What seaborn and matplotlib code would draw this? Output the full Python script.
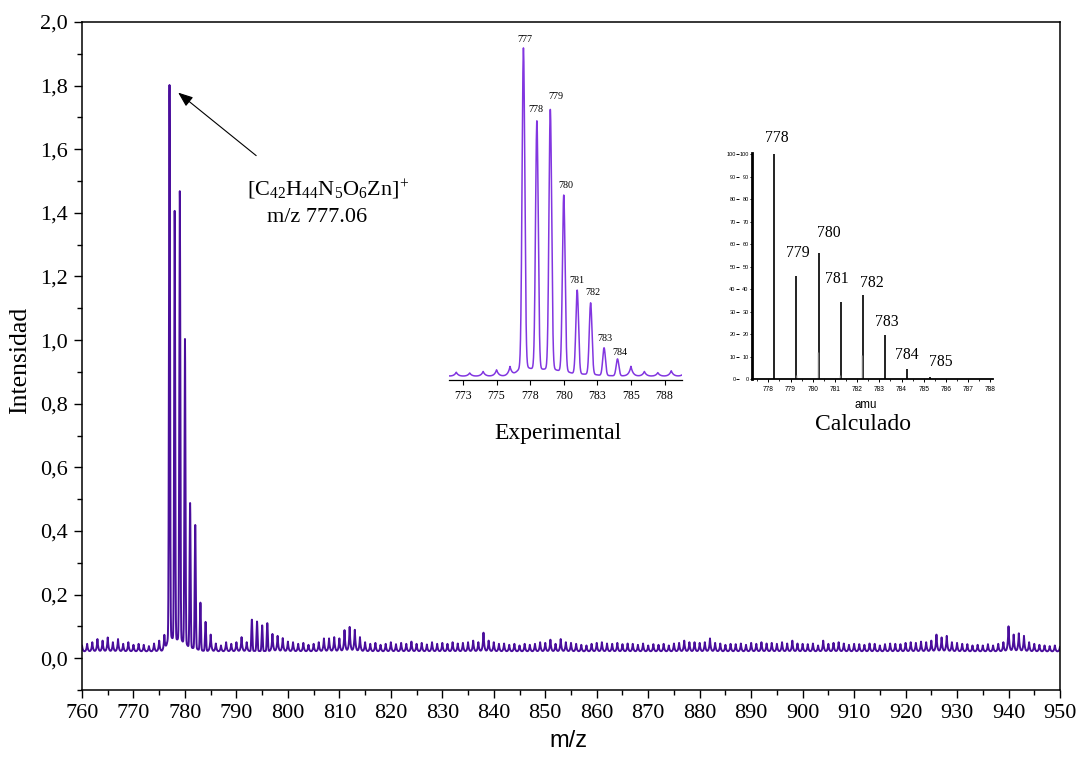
import numpy as np
import pandas as pd
import matplotlib
matplotlib.use("Agg")
import matplotlib.pyplot as plt
from matplotlib.ticker import MultipleLocator, FuncFormatter, FixedLocator, FixedFormatter
import seaborn as sns

# ---------------------------------------------------------------------------
# Experimental ESI-MS spectrum: apex intensity at each nominal m/z (760..950)
# ---------------------------------------------------------------------------
MZ_FIRST, MZ_LAST = 760, 950
peak_intensity = [
    0.040, 0.045, 0.050, 0.060, 0.055, 0.065, 0.050, 0.060, 0.045, 0.050,   # 760-769
    0.042, 0.045, 0.042, 0.038, 0.046, 0.055, 0.071, 1.800, 1.402, 1.465,   # 770-779
    1.001, 0.486, 0.418, 0.174, 0.114, 0.074, 0.046, 0.040, 0.050, 0.045,   # 780-789
    0.050, 0.066, 0.050, 0.121, 0.115, 0.103, 0.110, 0.076, 0.070, 0.063,   # 790-799
    0.052, 0.050, 0.045, 0.048, 0.042, 0.045, 0.050, 0.062, 0.062, 0.066,   # 800-809
    0.062, 0.088, 0.098, 0.089, 0.066, 0.050, 0.045, 0.048, 0.042, 0.045,   # 810-819
    0.050, 0.044, 0.048, 0.045, 0.052, 0.045, 0.048, 0.043, 0.050, 0.045,   # 820-829
    0.048, 0.045, 0.050, 0.046, 0.048, 0.050, 0.055, 0.050, 0.080, 0.055,   # 830-839
    0.050, 0.045, 0.046, 0.042, 0.045, 0.040, 0.045, 0.042, 0.045, 0.050,   # 840-849
    0.048, 0.058, 0.045, 0.060, 0.050, 0.048, 0.045, 0.042, 0.040, 0.045,   # 850-859
    0.048, 0.050, 0.046, 0.045, 0.048, 0.044, 0.046, 0.045, 0.042, 0.046,   # 860-869
    0.040, 0.044, 0.042, 0.045, 0.040, 0.046, 0.048, 0.055, 0.050, 0.050,   # 870-879
    0.048, 0.050, 0.062, 0.048, 0.046, 0.042, 0.045, 0.044, 0.046, 0.042,   # 880-889
    0.048, 0.045, 0.050, 0.046, 0.048, 0.045, 0.050, 0.046, 0.055, 0.046,   # 890-899
    0.045, 0.044, 0.046, 0.040, 0.055, 0.045, 0.048, 0.050, 0.046, 0.042,   # 900-909
    0.045, 0.044, 0.042, 0.046, 0.045, 0.040, 0.044, 0.046, 0.045, 0.044,   # 910-919
    0.048, 0.050, 0.048, 0.052, 0.050, 0.055, 0.074, 0.065, 0.070, 0.050,   # 920-929
    0.048, 0.045, 0.044, 0.040, 0.042, 0.040, 0.044, 0.040, 0.045, 0.050,   # 930-939
    0.100, 0.074, 0.078, 0.070, 0.050, 0.045, 0.042, 0.040, 0.038, 0.040,   # 940-949
    0.036,                                                                   # 950
]
baseline_level = 0.02

# isotope peaks tagged on the experimental close-up
exp_label_mz = [777, 778, 779, 780, 781, 782, 783, 784]

# theoretical isotope distribution of [C42H44N5O6Zn]+
calc_mz = [778.26, 779.26, 780.26, 781.26, 782.26, 783.26, 784.26, 785.26, 786.26]
calc_abund = [100, 46, 56, 34.5, 37.5, 19.5, 4.5, 1.2, 0.3]
calc_minor_mz = [779.24, 780.24, 781.24, 782.24]
calc_minor_abund = [2, 12, 2, 11]
calc_label_mz = [778, 779, 780, 781, 782, 783, 784, 785]

# axis ticks
main_xticks = list(range(760, 951, 10))
main_yticks = [0.0, 0.2, 0.4, 0.6, 0.8, 1.0, 1.2, 1.4, 1.6, 1.8, 2.0]
exp_tick_pos = [772.5, 775.0, 777.5, 780.0, 782.5, 785.0, 787.5]
exp_tick_labels = ["773", "775", "778", "780", "783", "785", "788"]
calc_xticks = list(range(778, 789))
calc_yticks = list(range(0, 101, 10))

# ---------------------------------------------------------------------------
# style
# ---------------------------------------------------------------------------
sns.set_style("ticks")
plt.rcParams["font.family"] = ["Liberation Serif", "DejaVu Serif"]
plt.rcParams["mathtext.fontset"] = "custom"
plt.rcParams["mathtext.rm"] = "Liberation Serif"
plt.rcParams["mathtext.it"] = "Liberation Serif:italic"
plt.rcParams["axes.edgecolor"] = "black"
plt.rcParams["axes.labelcolor"] = "black"
plt.rcParams["text.color"] = "black"
plt.rcParams["xtick.color"] = "black"
plt.rcParams["ytick.color"] = "black"

MAIN_COLOR = "#4A0E9C"
ZOOM_COLOR = "#8236E0"
W, H = 1079, 764


def fx(px):
    return px / W


def fy(py):
    return 1 - py / H


# continuous profile built from the centroid list: Gaussian isotope peaks,
# cusp-shaped low-level noise spikes, on a flat baseline
centroids = np.arange(MZ_FIRST, MZ_LAST + 1)
apexes = np.asarray(peak_intensity)
amps = apexes - baseline_level
strong = apexes > 0.1
grid = np.linspace(MZ_FIRST, MZ_LAST, 19001)
d = grid[:, None] - centroids[None, :]
gauss = (0.97 * np.exp(-d ** 2 / (2 * 0.10 ** 2))
         + 0.03 * np.exp(-d ** 2 / (2 * 0.40 ** 2)))
cusp = np.exp(-np.abs(d) / 0.16)
shape = np.where(strong[None, :], gauss, cusp)
profile = baseline_level + (shape * amps[None, :]).sum(axis=1)
spec = pd.DataFrame({"mz": grid, "intensity": profile})


def apex(mz):
    return peak_intensity[mz - MZ_FIRST]


fig = plt.figure(figsize=(W / 100, H / 100), dpi=100)

# ---------------------------------------------------------------------------
# main spectrum
# ---------------------------------------------------------------------------
ax = fig.add_axes([fx(82), fy(690), fx(1060) - fx(82), fy(22) - fy(690)])
sns.lineplot(data=spec, x="mz", y="intensity", ax=ax, color=MAIN_COLOR,
             lw=1.4, estimator=None, sort=False)
ax.set_xlim(760, 950)
ax.set_ylim(-0.1, 2.0)
ax.xaxis.set_major_locator(FixedLocator(main_xticks))
ax.xaxis.set_minor_locator(MultipleLocator(5))
ax.yaxis.set_major_locator(FixedLocator(main_yticks))
ax.yaxis.set_minor_locator(MultipleLocator(0.1))
ax.yaxis.set_major_formatter(FuncFormatter(lambda v, p: f"{v:.1f}".replace(".", ",")))
for s in ax.spines.values():
    s.set_linewidth(1.1)
    s.set_visible(True)
ax.tick_params(which="major", direction="out", length=6, width=1.0, labelsize=16, pad=4)
ax.tick_params(which="minor", direction="out", length=3.5, width=1.0)
ax.tick_params(top=False, right=False, which="both")
ax.set_xlabel("m/z", fontsize=17, fontfamily="Liberation Sans")
ax.xaxis.set_label_coords(0.497, -0.06)
ax.set_ylabel("Intensidad", fontsize=18.5)
ax.yaxis.set_label_coords(-0.052, 0.494)

# molecular-ion annotation
top = apex(777)
ax.annotate("", xy=(777, top), xytext=(62.4, -50.4), textcoords="offset points",
            arrowprops=dict(arrowstyle="-|>,head_length=0.9,head_width=0.35",
                            color="black", lw=0.8, shrinkA=0, shrinkB=8))
ax.annotate(r"[C$_{42}$H$_{44}$N$_{5}$O$_{6}$Zn]$^{+}$", xy=(777, top),
            xytext=(114.5, -74.9), textcoords="offset points",
            ha="center", va="center", fontsize=16)
ax.annotate("m/z 777.06", xy=(777, top), xytext=(106.6, -95.0),
            textcoords="offset points", ha="center", va="center", fontsize=16)

# ---------------------------------------------------------------------------
# experimental close-up
# ---------------------------------------------------------------------------
ax_exp = fig.add_axes([fx(449), fy(380), fx(682) - fx(449), fy(35) - fy(380)])
ax_exp.patch.set_alpha(0)
sns.lineplot(data=spec, x="mz", y="intensity", ax=ax_exp, color=ZOOM_COLOR,
             lw=1.1, estimator=None, sort=False)
ax_exp.set_xlim(771.46, 788.8)
ax_exp.set_ylim(0.0, 1.872)
for side in ("left", "top", "right"):
    ax_exp.spines[side].set_visible(False)
ax_exp.spines["bottom"].set_linewidth(0.9)
ax_exp.set_yticks([])
ax_exp.xaxis.set_major_locator(FixedLocator(exp_tick_pos))
ax_exp.xaxis.set_major_formatter(FixedFormatter(exp_tick_labels))
ax_exp.tick_params(axis="x", direction="out", length=3.5, width=0.8, labelsize=8.5, pad=4)
ax_exp.set_xlabel("")
ax_exp.set_ylabel("")
exp_label_offsets = [(1.2, 6.5), (-0.7, 8.4), (4.3, 9.6), (1.2, 7.2),
                     (-0.2, 7.0), (1.7, 7.6), (0.9, 6.5), (1.4, 5.0)]
for mz, off in zip(exp_label_mz, exp_label_offsets):
    ax_exp.annotate(str(mz), xy=(mz, apex(mz)), xytext=off, textcoords="offset points",
                    ha="center", va="center", fontsize=7.3, annotation_clip=False)
fig.text(fx(558), fy(433), "Experimental", ha="center", va="center", fontsize=17)

# ---------------------------------------------------------------------------
# calculated isotope pattern
# ---------------------------------------------------------------------------
ax_calc = fig.add_axes([fx(751.7), fy(379.3), fx(993) - fx(751.7), fy(153.3) - fy(379.3)])
ax_calc.patch.set_alpha(0)
ax_calc.vlines(calc_mz, 0, calc_abund, color="#111111", lw=1.3)
ax_calc.vlines(calc_minor_mz, 0, calc_minor_abund, color="#777777", lw=1.0)
ax_calc.set_xlim(777.25, 788.12)
ax_calc.set_ylim(0, 100.5)
ax_calc.spines["top"].set_visible(False)
ax_calc.spines["right"].set_visible(False)
ax_calc.spines["left"].set_linewidth(2.0)
ax_calc.spines["bottom"].set_linewidth(1.3)
ax_calc.xaxis.set_major_locator(FixedLocator(calc_xticks))
ax_calc.xaxis.set_minor_locator(MultipleLocator(0.5))
ax_calc.yaxis.set_major_locator(FixedLocator(calc_yticks))
ax_calc.tick_params(axis="x", which="major", direction="out", length=2.2, width=0.7,
                    labelsize=4.8, pad=2.5, labelfontfamily="Liberation Sans")
ax_calc.tick_params(axis="x", which="minor", direction="out", length=1.2, width=0.6)
ax_calc.tick_params(axis="y", direction="out", length=1.6, width=0.7, labelsize=4.0,
                    pad=0.6, labelfontfamily="Liberation Sans")
sec = ax_calc.secondary_yaxis(-0.052)
sec.spines["left"].set_visible(False)
sec.yaxis.set_major_locator(FixedLocator(calc_yticks))
sec.tick_params(axis="y", direction="out", length=2.0, width=0.7, labelsize=4.0,
                pad=0.6, labelfontfamily="Liberation Sans")
calc_label_offsets = [(1.9, 11.5), (0.9, 16.2), (7.4, 14.4), (-2.6, 16.1),
                      (6.1, 8.4), (1.4, 9.9), (-0.1, 10.2), (7.9, 10.8)]
for mz, val, off in zip(calc_mz, calc_abund, calc_label_offsets):
    ax_calc.annotate(f"{mz:.0f}", xy=(mz, val), xytext=off, textcoords="offset points",
                     ha="center", va="center", fontsize=11.3, annotation_clip=False)
fig.text(fx(865.7), fy(405), "amu", ha="center", va="center", fontsize=8.3,
         fontfamily="Liberation Sans")
fig.text(fx(863), fy(425), "Calculado", ha="center", va="center", fontsize=17)

fig.savefig("out.png", dpi=100)
